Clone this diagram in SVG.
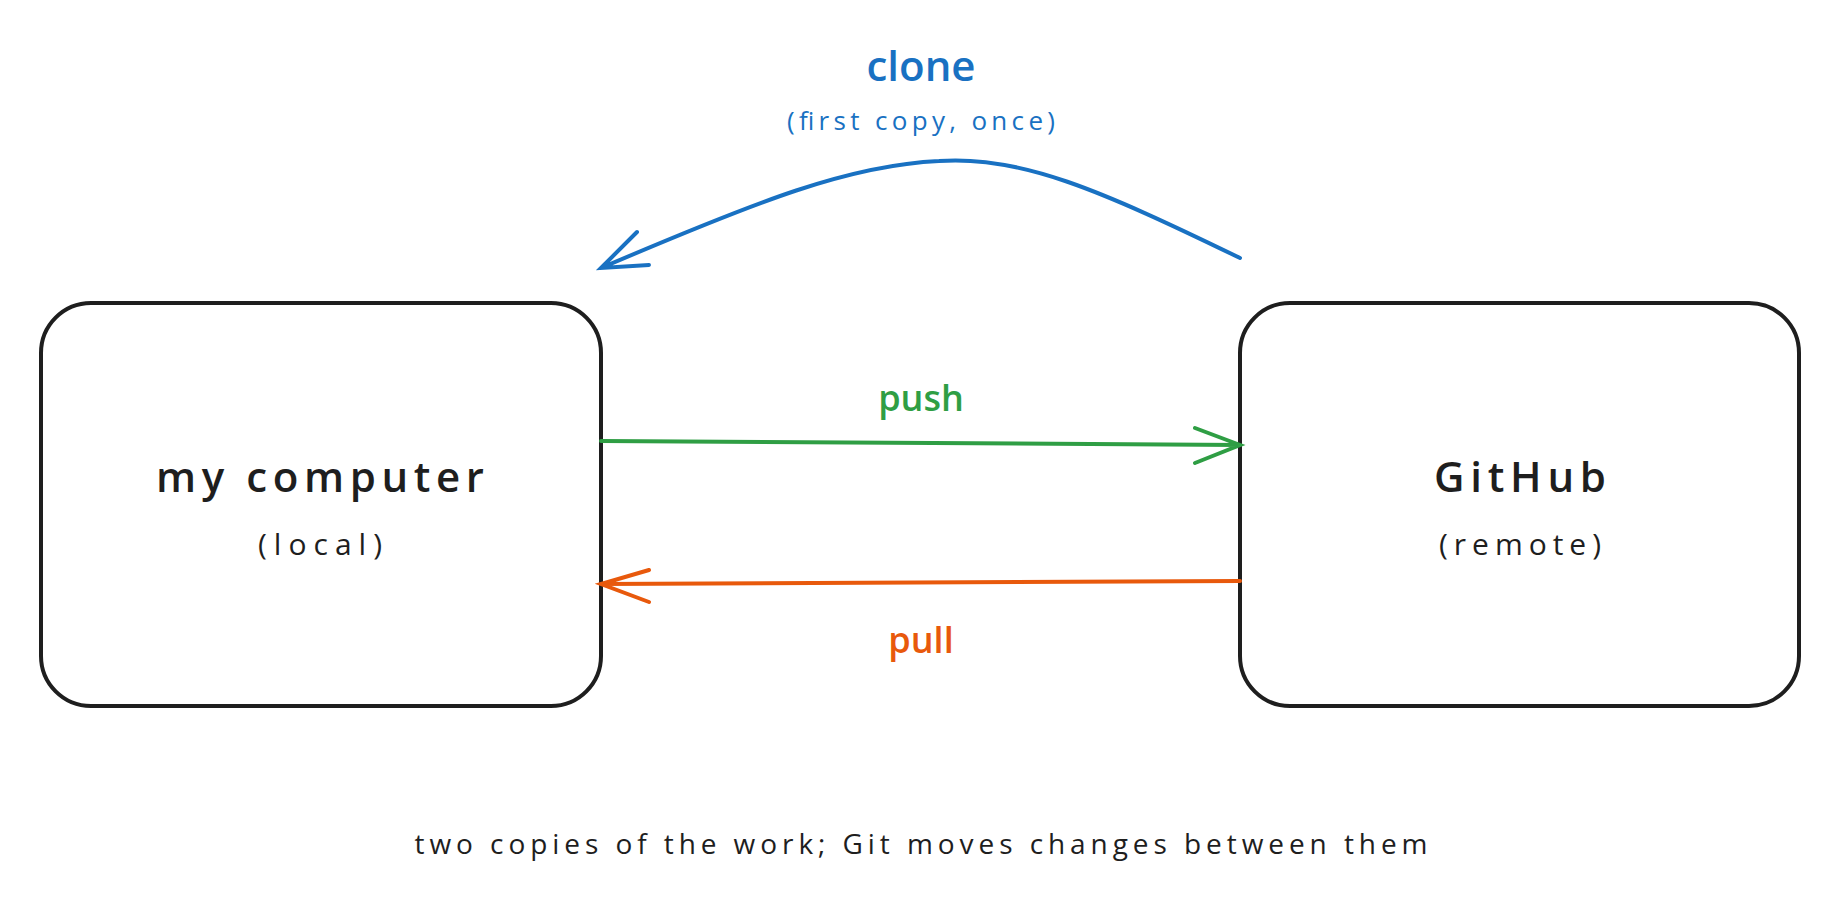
<svg xmlns="http://www.w3.org/2000/svg" width="1840" height="909" viewBox="0 0 1840 909">
<style>
text{font-family:"Open Sans","Liberation Sans",sans-serif;text-anchor:middle;dominant-baseline:middle}
.box{fill:#fff;stroke:#1e1e1e;stroke-width:4}
.t{font-size:42px;fill:#1e1e1e;font-weight:600}
.s{font-size:30px;fill:#1e1e1e}
.ln{fill:none;stroke-width:4;stroke-linecap:round}
</style>
<rect width="1840" height="909" fill="#fff"/>
<g id="local"><rect class="box" x="41" y="303" width="560" height="403" rx="50"/><text class="t" x="320" y="481" textLength="328" lengthAdjust="spacing">my computer</text><text class="s" x="320" y="547" textLength="124" lengthAdjust="spacing">(local)</text></g>
<g id="github"><rect class="box" x="1240" y="303" width="559" height="403" rx="50"/><text class="t" x="1520" y="481" textLength="172" lengthAdjust="spacing">GitHub</text><text class="s" x="1520" y="547" textLength="162" lengthAdjust="spacing">(remote)</text></g>
<g id="connectors">
<path class="ln" stroke="#1971c2" d="M1240,258 C1100,190 1020,155 939,161 C850,165 760,200 601,268 M637,232 L601,268 L649,265"/>
<path class="ln" stroke="#2f9e44" d="M601,441 L1240,445 M1195,428 L1240,445 L1195,463"/>
<path class="ln" stroke="#e8590c" d="M1240,581 L601,584 M649,570 L601,584 L649,602"/>
</g>
<g id="labels">
<text x="921" y="70" font-size="42" font-weight="600" fill="#1971c2">clone</text>
<text x="921" y="123" font-size="26" fill="#1971c2" textLength="268" lengthAdjust="spacing">(first copy, once)</text>
<text x="921" y="401" font-size="36" font-weight="600" fill="#2f9e44">push</text>
<text x="921" y="643" font-size="36" font-weight="600" fill="#e8590c">pull</text>
<text x="921" y="847" font-size="28" fill="#1e1e1e" textLength="1013" lengthAdjust="spacing">two copies of the work; Git moves changes between them</text>
</g>
</svg>
